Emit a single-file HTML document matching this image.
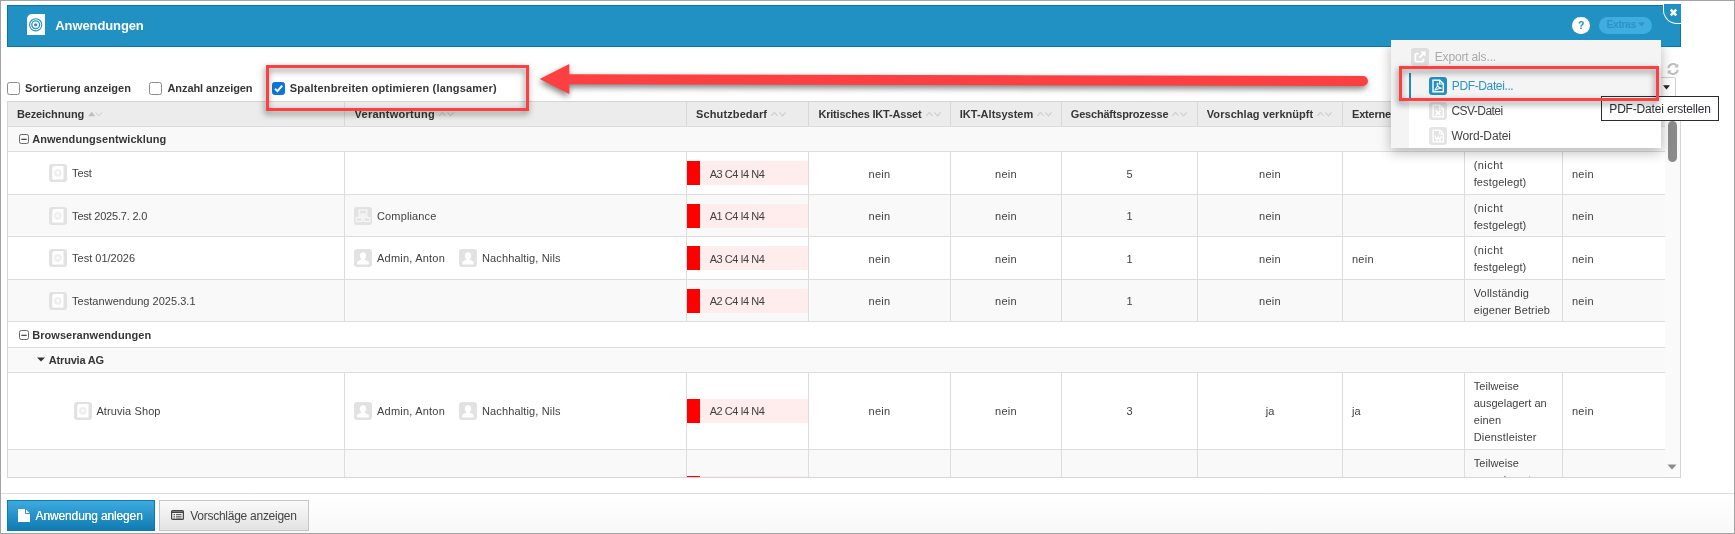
<!DOCTYPE html>
<html><head><meta charset="utf-8"><title>Anwendungen</title><style>
*{box-sizing:border-box}
html,body{margin:0;padding:0}
body{width:1735px;height:534px;overflow:hidden;background:#fff;position:relative;font-family:"Liberation Sans",sans-serif;color:#333}
.a{position:absolute}
.t{position:absolute;white-space:nowrap;color:#414141}
.frame{left:0;top:0;width:1735px;height:534px;border:1px solid #a3a3a3;z-index:50}
.hdr{left:7px;top:5px;width:1674px;height:42px;background:#2190c2;border:1px solid #0b75aa}
.cb{width:13px;height:13px;border:1px solid #8c8c8c;border-radius:2.5px;background:#fff}
.cb.on{background:#0f74d8;border-color:#0f74d8}
.row{left:8px;width:1657px}
.alt{background:#f9f9f9}
.hl{left:8px;width:1657px;height:1px;background:#dddddd}
.vl{width:1px;background:#dddddd}
.ico{width:18px;height:18px;border-radius:3px;background:#e2e2e2}
.red{left:687px;width:13px;height:24px;background:#ff0000}
.pink{left:700px;width:108px;height:24px;background:#ffecec}
.redbox{border:3px solid #fc4042;filter:drop-shadow(-1px 3.5px 3px rgba(0,0,0,.5))}
</style></head><body><div class="a" style="left:0;top:0;width:1735px;height:534px;will-change:transform">
<div class="a hdr"></div>
<svg class="a" style="left:26.500px;top:14.200px" width="18" height="21" viewBox="0 0 18 21"><path d="M5 0H18V21H0V5A5 5 0 0 1 5 0Z" fill="#fff"/><circle cx="8.700" cy="10.800" r="6.100" fill="none" stroke="#2190c2" stroke-width="1.100"/><circle cx="8.700" cy="10.800" r="3.900" fill="none" stroke="#2190c2" stroke-width="1.300"/><circle cx="8.700" cy="10.800" r="1.600" fill="#2190c2"/></svg>
<span class="t " style="font-size:13px;font-weight:bold;color:#fff;line-height:17px;top:17.00px;left:55.30px;letter-spacing:-0.104px;">Anwendungen</span>
<div class="a" style="left:1572px;top:17px;width:18px;height:17px;border-radius:9px;background:#fff"></div>
<span class="t " style="font-size:10.5px;font-weight:bold;color:#2190c2;line-height:14px;top:17.56px;left:1481.30px;width:200px;text-align:center;letter-spacing:0;">?</span>
<div class="a" style="left:1599px;top:17px;width:53px;height:17px;border-radius:8.5px;background:#40ade0"></div>
<span class="t " style="font-size:10.5px;font-weight:bold;color:#2c93c7;line-height:14px;top:17.36px;left:1606.50px;letter-spacing:-0.452px;">Extras</span>
<svg class="a" style="left:1638px;top:21.5px" width="7" height="5" viewBox="0 0 7 5"><path d="M0 0.5H7L3.5 4.5Z" fill="#2c93c7"/></svg>
<div class="a" style="left:1663px;top:4px;width:18px;height:20px;background:#2190c2;border-left:1px solid #fff;border-bottom:1px solid #fff;border-bottom-left-radius:14px"></div>
<svg class="a" style="left:1669px;top:8px" width="9" height="9" viewBox="0 0 9 9"><path d="M1.700 1.700L7.300 7.300M7.300 1.700L1.700 7.300" stroke="#fff" stroke-width="2.600"/></svg>
<div class="a cb" style="left:7px;top:82px"></div>
<span class="t " style="font-size:11px;font-weight:bold;color:#363636;line-height:14px;top:81.19px;left:24.90px;letter-spacing:0.018px;">Sortierung anzeigen</span>
<div class="a cb" style="left:149px;top:82px"></div>
<span class="t " style="font-size:11px;font-weight:bold;color:#363636;line-height:14px;top:81.19px;left:167.50px;letter-spacing:-0.079px;">Anzahl anzeigen</span>
<div class="a cb on" style="left:271.5px;top:82px"><svg class="a" style="left:0;top:0" width="11" height="11" viewBox="0 0 11 11"><path d="M2 5.8L4.5 8.2L9.2 2.6" fill="none" stroke="#fff" stroke-width="1.9"/></svg></div>
<span class="t " style="font-size:11px;font-weight:bold;color:#363636;line-height:14px;top:81.19px;left:289.80px;letter-spacing:0.157px;">Spaltenbreiten optimieren (langsamer)</span>
<div class="a" style="left:7px;top:101px;width:1674px;height:377px;border:1px solid #d6d6d6;background:#fff"></div>
<div class="a row" style="top:102px;height:24px;background:#ececec"></div>
<div class="a row alt" style="top:127px;height:24px"></div>
<div class="a row alt" style="top:195px;height:41px"></div>
<div class="a row alt" style="top:280px;height:41px"></div>
<div class="a row alt" style="top:348px;height:24px"></div>
<div class="a row alt" style="top:450px;height:27px"></div>
<div class="a hl" style="top:126px"></div>
<div class="a hl" style="top:151px"></div>
<div class="a hl" style="top:194px"></div>
<div class="a hl" style="top:236px"></div>
<div class="a hl" style="top:279px"></div>
<div class="a hl" style="top:321px"></div>
<div class="a hl" style="top:347px"></div>
<div class="a hl" style="top:372px"></div>
<div class="a hl" style="top:449px"></div>
<div class="a vl" style="left:344px;top:102px;height:24px;background:#d8d8d8"></div>
<div class="a vl" style="left:344px;top:152px;height:169px;background:#dddddd"></div>
<div class="a vl" style="left:344px;top:373px;height:104px;background:#dddddd"></div>
<div class="a vl" style="left:686px;top:102px;height:24px;background:#d8d8d8"></div>
<div class="a vl" style="left:686px;top:152px;height:169px;background:#dddddd"></div>
<div class="a vl" style="left:686px;top:373px;height:104px;background:#dddddd"></div>
<div class="a vl" style="left:808px;top:102px;height:24px;background:#d8d8d8"></div>
<div class="a vl" style="left:808px;top:152px;height:169px;background:#dddddd"></div>
<div class="a vl" style="left:808px;top:373px;height:104px;background:#dddddd"></div>
<div class="a vl" style="left:950px;top:102px;height:24px;background:#d8d8d8"></div>
<div class="a vl" style="left:950px;top:152px;height:169px;background:#dddddd"></div>
<div class="a vl" style="left:950px;top:373px;height:104px;background:#dddddd"></div>
<div class="a vl" style="left:1061px;top:102px;height:24px;background:#d8d8d8"></div>
<div class="a vl" style="left:1061px;top:152px;height:169px;background:#dddddd"></div>
<div class="a vl" style="left:1061px;top:373px;height:104px;background:#dddddd"></div>
<div class="a vl" style="left:1197px;top:102px;height:24px;background:#d8d8d8"></div>
<div class="a vl" style="left:1197px;top:152px;height:169px;background:#dddddd"></div>
<div class="a vl" style="left:1197px;top:373px;height:104px;background:#dddddd"></div>
<div class="a vl" style="left:1342px;top:102px;height:24px;background:#d8d8d8"></div>
<div class="a vl" style="left:1342px;top:152px;height:169px;background:#dddddd"></div>
<div class="a vl" style="left:1342px;top:373px;height:104px;background:#dddddd"></div>
<div class="a vl" style="left:1464px;top:102px;height:24px;background:#d8d8d8"></div>
<div class="a vl" style="left:1464px;top:152px;height:169px;background:#dddddd"></div>
<div class="a vl" style="left:1464px;top:373px;height:104px;background:#dddddd"></div>
<div class="a vl" style="left:1562px;top:102px;height:24px;background:#d8d8d8"></div>
<div class="a vl" style="left:1562px;top:152px;height:169px;background:#dddddd"></div>
<div class="a vl" style="left:1562px;top:373px;height:104px;background:#dddddd"></div>
<span class="t " style="font-size:11px;font-weight:bold;color:#363636;line-height:14px;top:107.19px;left:16.90px;letter-spacing:-0.114px;">Bezeichnung</span>
<svg class="a" style="left:87.6px;top:110px" width="16" height="8" viewBox="0 0 16 8"><path d="M0.2 6.200L3.700 1.800L7.200 6.200Z" fill="#bdbdbd"/><path d="M7.600 2.300L10.800 5.900L14 2.300" fill="none" stroke="#cdcdcd" stroke-width="1"/></svg>
<span class="t " style="font-size:11px;font-weight:bold;color:#363636;line-height:14px;top:107.19px;left:354.50px;letter-spacing:0.268px;">Verantwortung</span>
<svg class="a" style="left:439.0px;top:110px" width="16" height="8" viewBox="0 0 16 8"><path d="M0.400 6L3.500 2.400L6.600 6" fill="none" stroke="#cdcdcd" stroke-width="1.100"/><path d="M8.400 2.300L11.500 5.900L14.600 2.300" fill="none" stroke="#cdcdcd" stroke-width="1.100"/></svg>
<span class="t " style="font-size:11px;font-weight:bold;color:#363636;line-height:14px;top:107.19px;left:696.10px;letter-spacing:0.109px;">Schutzbedarf</span>
<svg class="a" style="left:771.1px;top:110px" width="16" height="8" viewBox="0 0 16 8"><path d="M0.400 6L3.500 2.400L6.600 6" fill="none" stroke="#cdcdcd" stroke-width="1.100"/><path d="M8.400 2.300L11.500 5.900L14.600 2.300" fill="none" stroke="#cdcdcd" stroke-width="1.100"/></svg>
<span class="t " style="font-size:11px;font-weight:bold;color:#363636;line-height:14px;top:107.19px;left:818.40px;letter-spacing:-0.194px;">Kritisches IKT-Asset</span>
<svg class="a" style="left:925.5px;top:110px" width="16" height="8" viewBox="0 0 16 8"><path d="M0.400 6L3.500 2.400L6.600 6" fill="none" stroke="#cdcdcd" stroke-width="1.100"/><path d="M8.400 2.300L11.500 5.900L14.600 2.300" fill="none" stroke="#cdcdcd" stroke-width="1.100"/></svg>
<span class="t " style="font-size:11px;font-weight:bold;color:#363636;line-height:14px;top:107.19px;left:959.80px;letter-spacing:0.011px;">IKT-Altsystem</span>
<svg class="a" style="left:1037.3px;top:110px" width="16" height="8" viewBox="0 0 16 8"><path d="M0.400 6L3.500 2.400L6.600 6" fill="none" stroke="#cdcdcd" stroke-width="1.100"/><path d="M8.400 2.300L11.500 5.900L14.600 2.300" fill="none" stroke="#cdcdcd" stroke-width="1.100"/></svg>
<span class="t " style="font-size:11px;font-weight:bold;color:#363636;line-height:14px;top:107.19px;left:1070.80px;letter-spacing:-0.199px;">Geschäftsprozesse</span>
<svg class="a" style="left:1172.3px;top:110px" width="16" height="8" viewBox="0 0 16 8"><path d="M0.400 6L3.500 2.400L6.600 6" fill="none" stroke="#cdcdcd" stroke-width="1.100"/><path d="M8.400 2.300L11.500 5.900L14.600 2.300" fill="none" stroke="#cdcdcd" stroke-width="1.100"/></svg>
<span class="t " style="font-size:11px;font-weight:bold;color:#363636;line-height:14px;top:107.19px;left:1206.80px;letter-spacing:0.050px;">Vorschlag verknüpft</span>
<svg class="a" style="left:1317.3px;top:110px" width="16" height="8" viewBox="0 0 16 8"><path d="M0.400 6L3.500 2.400L6.600 6" fill="none" stroke="#cdcdcd" stroke-width="1.100"/><path d="M8.400 2.300L11.500 5.900L14.600 2.300" fill="none" stroke="#cdcdcd" stroke-width="1.100"/></svg>
<span class="t " style="font-size:11px;font-weight:bold;color:#363636;line-height:14px;top:107.19px;left:1352.00px;letter-spacing:-0.211px;">Externe Dienstleister</span>
<svg class="a" style="left:1461px;top:110px" width="16" height="8" viewBox="0 0 16 8"><path d="M0.400 6L3.500 2.400L6.600 6" fill="none" stroke="#cdcdcd" stroke-width="1.100"/><path d="M8.400 2.300L11.500 5.900L14.600 2.300" fill="none" stroke="#cdcdcd" stroke-width="1.100"/></svg>
<svg class="a" style="left:19px;top:134px" width="10" height="10" viewBox="0 0 10 10"><rect x="0.5" y="0.5" width="9" height="9" rx="1.800" fill="none" stroke="#5a5a5a" stroke-width=".9"/><path d="M2.300 5.300H7.700" stroke="#333" stroke-width="1.100"/></svg>
<span class="t " style="font-size:11px;font-weight:bold;color:#363636;line-height:14px;top:132.19px;left:32.20px;letter-spacing:0.070px;">Anwendungsentwicklung</span>
<svg class="a" style="left:19px;top:329.5px" width="10" height="10" viewBox="0 0 10 10"><rect x="0.5" y="0.5" width="9" height="9" rx="1.800" fill="none" stroke="#5a5a5a" stroke-width=".9"/><path d="M2.300 5.300H7.700" stroke="#333" stroke-width="1.100"/></svg>
<span class="t " style="font-size:11px;font-weight:bold;color:#363636;line-height:14px;top:327.69px;left:32.20px;letter-spacing:0.057px;">Browseranwendungen</span>
<svg class="a" style="left:37px;top:357px" width="8" height="5" viewBox="0 0 8 5"><path d="M0 0.5H8L4 4.5Z" fill="#333"/></svg>
<span class="t " style="font-size:11px;font-weight:bold;color:#363636;line-height:14px;top:352.69px;left:48.80px;letter-spacing:-0.185px;">Atruvia AG</span>
<svg class="a ico" style="left:49px;top:164px" width="18" height="18" viewBox="0 0 18 18"><path d="M6 2.100H14.500V15.500H3.300V4.800A2.700 2.700 0 0 1 6 2.100Z" fill="#fff"/><circle cx="8.800" cy="8.800" r="3.900" fill="#efefef"/><circle cx="8.800" cy="8.800" r="1.300" fill="#fff"/></svg>
<span class="t " style="font-size:11px;line-height:14px;top:166.19px;left:72.10px;letter-spacing:-0.122px;">Test</span>
<div class="a red" style="top:161px"></div><div class="a pink" style="top:161px"></div>
<span class="t " style="font-size:11px;line-height:14px;top:166.69px;left:709.70px;letter-spacing:-0.484px;">A3 C4 I4 N4</span>
<span class="t " style="font-size:11px;line-height:14px;top:166.69px;left:779.50px;width:200px;text-align:center;letter-spacing:0.251px;">nein</span>
<span class="t " style="font-size:11px;line-height:14px;top:166.69px;left:906.00px;width:200px;text-align:center;letter-spacing:0.251px;">nein</span>
<span class="t " style="font-size:11px;line-height:14px;top:166.69px;left:1029.50px;width:200px;text-align:center;letter-spacing:0;">5</span>
<span class="t " style="font-size:11px;line-height:14px;top:166.69px;left:1170.00px;width:200px;text-align:center;letter-spacing:0.251px;">nein</span>
<span class="t " style="font-size:11px;line-height:14px;top:158.19px;left:1473.70px;letter-spacing:0.432px;">(nicht</span>
<span class="t " style="font-size:11px;line-height:14px;top:175.19px;left:1473.70px;letter-spacing:0.120px;">festgelegt)</span>
<span class="t " style="font-size:11px;line-height:14px;top:166.69px;left:1572.00px;letter-spacing:0.251px;">nein</span>
<svg class="a ico" style="left:49px;top:206.5px" width="18" height="18" viewBox="0 0 18 18"><path d="M6 2.100H14.500V15.500H3.300V4.800A2.700 2.700 0 0 1 6 2.100Z" fill="#fff"/><circle cx="8.800" cy="8.800" r="3.900" fill="#efefef"/><circle cx="8.800" cy="8.800" r="1.300" fill="#fff"/></svg>
<span class="t " style="font-size:11px;line-height:14px;top:208.69px;left:72.10px;letter-spacing:-0.205px;">Test 2025.7. 2.0</span>
<svg class="a ico" style="left:354px;top:206.5px" width="18" height="18" viewBox="0 0 18 18"><g fill="none" stroke="#f7f7f7" stroke-width="1.3"><rect x="5.2" y="3" width="7.6" height="4"/><rect x="2.3" y="10.700" width="5.600" height="3.800"/><rect x="10.100" y="10.700" width="5.600" height="3.800"/><path d="M9 7V12.500M5 10.700V9H13V10.700"/></g></svg>
<span class="t " style="font-size:11px;line-height:14px;top:208.69px;left:377.00px;letter-spacing:0.141px;">Compliance</span>
<div class="a red" style="top:203.5px"></div><div class="a pink" style="top:203.5px"></div>
<span class="t " style="font-size:11px;line-height:14px;top:209.19px;left:709.70px;letter-spacing:-0.484px;">A1 C4 I4 N4</span>
<span class="t " style="font-size:11px;line-height:14px;top:209.19px;left:779.50px;width:200px;text-align:center;letter-spacing:0.251px;">nein</span>
<span class="t " style="font-size:11px;line-height:14px;top:209.19px;left:906.00px;width:200px;text-align:center;letter-spacing:0.251px;">nein</span>
<span class="t " style="font-size:11px;line-height:14px;top:209.19px;left:1029.50px;width:200px;text-align:center;letter-spacing:0;">1</span>
<span class="t " style="font-size:11px;line-height:14px;top:209.19px;left:1170.00px;width:200px;text-align:center;letter-spacing:0.251px;">nein</span>
<span class="t " style="font-size:11px;line-height:14px;top:200.69px;left:1473.70px;letter-spacing:0.432px;">(nicht</span>
<span class="t " style="font-size:11px;line-height:14px;top:217.69px;left:1473.70px;letter-spacing:0.120px;">festgelegt)</span>
<span class="t " style="font-size:11px;line-height:14px;top:209.19px;left:1572.00px;letter-spacing:0.251px;">nein</span>
<svg class="a ico" style="left:49px;top:249px" width="18" height="18" viewBox="0 0 18 18"><path d="M6 2.100H14.500V15.500H3.300V4.800A2.700 2.700 0 0 1 6 2.100Z" fill="#fff"/><circle cx="8.800" cy="8.800" r="3.900" fill="#efefef"/><circle cx="8.800" cy="8.800" r="1.300" fill="#fff"/></svg>
<span class="t " style="font-size:11px;line-height:14px;top:251.19px;left:72.10px;letter-spacing:0.000px;">Test 01/2026</span>
<svg class="a ico" style="left:354px;top:249px" width="18" height="18" viewBox="0 0 18 18"><path d="M9 3.2c2 0 3.2 1.5 3.2 3.4 0 1.4-.6 2.7-1.5 3.3v.9c1.8.6 4.1 1.500 4.3 3.200 0 1-1 1.5-1.500 1.500H4.500C4 15.500 3 15 3 14c.2-1.700 2.500-2.600 4.300-3.200v-.9C6.400 9.300 5.800 8 5.800 6.600 5.800 4.700 7 3.200 9 3.200Z" fill="#fff"/></svg>
<span class="t " style="font-size:11px;line-height:14px;top:251.19px;left:377.00px;letter-spacing:0.214px;">Admin, Anton</span>
<svg class="a ico" style="left:459px;top:249px" width="18" height="18" viewBox="0 0 18 18"><path d="M9 3.2c2 0 3.2 1.5 3.2 3.4 0 1.4-.6 2.7-1.5 3.3v.9c1.8.6 4.1 1.500 4.3 3.200 0 1-1 1.5-1.500 1.500H4.500C4 15.500 3 15 3 14c.2-1.700 2.500-2.600 4.300-3.200v-.9C6.400 9.300 5.800 8 5.800 6.600 5.800 4.700 7 3.200 9 3.200Z" fill="#fff"/></svg>
<span class="t " style="font-size:11px;line-height:14px;top:251.19px;left:482.00px;letter-spacing:0.136px;">Nachhaltig, Nils</span>
<div class="a red" style="top:246px"></div><div class="a pink" style="top:246px"></div>
<span class="t " style="font-size:11px;line-height:14px;top:251.69px;left:709.70px;letter-spacing:-0.484px;">A3 C4 I4 N4</span>
<span class="t " style="font-size:11px;line-height:14px;top:251.69px;left:779.50px;width:200px;text-align:center;letter-spacing:0.251px;">nein</span>
<span class="t " style="font-size:11px;line-height:14px;top:251.69px;left:906.00px;width:200px;text-align:center;letter-spacing:0.251px;">nein</span>
<span class="t " style="font-size:11px;line-height:14px;top:251.69px;left:1029.50px;width:200px;text-align:center;letter-spacing:0;">1</span>
<span class="t " style="font-size:11px;line-height:14px;top:251.69px;left:1170.00px;width:200px;text-align:center;letter-spacing:0.251px;">nein</span>
<span class="t " style="font-size:11px;line-height:14px;top:251.69px;left:1352.00px;letter-spacing:0.251px;">nein</span>
<span class="t " style="font-size:11px;line-height:14px;top:243.19px;left:1473.70px;letter-spacing:0.432px;">(nicht</span>
<span class="t " style="font-size:11px;line-height:14px;top:260.19px;left:1473.70px;letter-spacing:0.120px;">festgelegt)</span>
<span class="t " style="font-size:11px;line-height:14px;top:251.69px;left:1572.00px;letter-spacing:0.251px;">nein</span>
<svg class="a ico" style="left:49px;top:291.5px" width="18" height="18" viewBox="0 0 18 18"><path d="M6 2.100H14.500V15.500H3.300V4.800A2.700 2.700 0 0 1 6 2.100Z" fill="#fff"/><circle cx="8.800" cy="8.800" r="3.900" fill="#efefef"/><circle cx="8.800" cy="8.800" r="1.300" fill="#fff"/></svg>
<span class="t " style="font-size:11px;line-height:14px;top:293.69px;left:72.10px;letter-spacing:0.026px;">Testanwendung 2025.3.1</span>
<div class="a red" style="top:288.5px"></div><div class="a pink" style="top:288.5px"></div>
<span class="t " style="font-size:11px;line-height:14px;top:294.19px;left:709.70px;letter-spacing:-0.484px;">A2 C4 I4 N4</span>
<span class="t " style="font-size:11px;line-height:14px;top:294.19px;left:779.50px;width:200px;text-align:center;letter-spacing:0.251px;">nein</span>
<span class="t " style="font-size:11px;line-height:14px;top:294.19px;left:906.00px;width:200px;text-align:center;letter-spacing:0.251px;">nein</span>
<span class="t " style="font-size:11px;line-height:14px;top:294.19px;left:1029.50px;width:200px;text-align:center;letter-spacing:0;">1</span>
<span class="t " style="font-size:11px;line-height:14px;top:294.19px;left:1170.00px;width:200px;text-align:center;letter-spacing:0.251px;">nein</span>
<span class="t " style="font-size:11px;line-height:14px;top:285.69px;left:1473.70px;letter-spacing:0.207px;">Vollständig</span>
<span class="t " style="font-size:11px;line-height:14px;top:302.69px;left:1473.70px;letter-spacing:0.106px;">eigener Betrieb</span>
<span class="t " style="font-size:11px;line-height:14px;top:294.19px;left:1572.00px;letter-spacing:0.251px;">nein</span>
<svg class="a ico" style="left:74px;top:402px" width="18" height="18" viewBox="0 0 18 18"><path d="M6 2.100H14.500V15.500H3.300V4.800A2.700 2.700 0 0 1 6 2.100Z" fill="#fff"/><circle cx="8.800" cy="8.800" r="3.900" fill="#efefef"/><circle cx="8.800" cy="8.800" r="1.300" fill="#fff"/></svg>
<span class="t " style="font-size:11px;line-height:14px;top:404.19px;left:96.40px;letter-spacing:0.101px;">Atruvia Shop</span>
<svg class="a ico" style="left:354px;top:402px" width="18" height="18" viewBox="0 0 18 18"><path d="M9 3.2c2 0 3.2 1.5 3.2 3.4 0 1.4-.6 2.7-1.5 3.3v.9c1.8.6 4.1 1.500 4.3 3.200 0 1-1 1.5-1.500 1.500H4.500C4 15.500 3 15 3 14c.2-1.700 2.500-2.600 4.300-3.200v-.9C6.400 9.300 5.800 8 5.800 6.600 5.800 4.700 7 3.200 9 3.200Z" fill="#fff"/></svg>
<span class="t " style="font-size:11px;line-height:14px;top:404.19px;left:377.00px;letter-spacing:0.214px;">Admin, Anton</span>
<svg class="a ico" style="left:459px;top:402px" width="18" height="18" viewBox="0 0 18 18"><path d="M9 3.2c2 0 3.2 1.5 3.2 3.4 0 1.4-.6 2.7-1.5 3.3v.9c1.8.6 4.1 1.500 4.3 3.200 0 1-1 1.5-1.500 1.500H4.500C4 15.500 3 15 3 14c.2-1.700 2.500-2.600 4.300-3.200v-.9C6.400 9.300 5.800 8 5.800 6.600 5.800 4.700 7 3.200 9 3.200Z" fill="#fff"/></svg>
<span class="t " style="font-size:11px;line-height:14px;top:404.19px;left:482.00px;letter-spacing:0.136px;">Nachhaltig, Nils</span>
<div class="a red" style="top:399px"></div><div class="a pink" style="top:399px"></div>
<span class="t " style="font-size:11px;line-height:14px;top:403.89px;left:709.70px;letter-spacing:-0.484px;">A2 C4 I4 N4</span>
<span class="t " style="font-size:11px;line-height:14px;top:403.89px;left:779.50px;width:200px;text-align:center;letter-spacing:0.251px;">nein</span>
<span class="t " style="font-size:11px;line-height:14px;top:403.89px;left:906.00px;width:200px;text-align:center;letter-spacing:0.251px;">nein</span>
<span class="t " style="font-size:11px;line-height:14px;top:403.89px;left:1029.50px;width:200px;text-align:center;letter-spacing:0;">3</span>
<span class="t " style="font-size:11px;line-height:14px;top:403.89px;left:1170.00px;width:200px;text-align:center;letter-spacing:0;">ja</span>
<span class="t " style="font-size:11px;line-height:14px;top:403.89px;left:1352.00px;letter-spacing:0;">ja</span>
<span class="t " style="font-size:11px;line-height:14px;top:379.19px;left:1473.70px;letter-spacing:0.073px;">Teilweise</span>
<span class="t " style="font-size:11px;line-height:14px;top:396.19px;left:1473.70px;letter-spacing:0.016px;">ausgelagert an</span>
<span class="t " style="font-size:11px;line-height:14px;top:413.19px;left:1473.70px;letter-spacing:0.116px;">einen</span>
<span class="t " style="font-size:11px;line-height:14px;top:430.19px;left:1473.70px;letter-spacing:0.190px;">Dienstleister</span>
<span class="t " style="font-size:11px;line-height:14px;top:403.89px;left:1572.00px;letter-spacing:0.251px;">nein</span>
<div class="a" style="left:687px;top:476px;width:13px;height:1px;background:#ff0000"></div><div class="a" style="left:700px;top:476px;width:108px;height:1px;background:#ffecec"></div>
<div class="a" style="left:1465px;top:450px;width:97px;height:27px;overflow:hidden"><span class="t " style="font-size:11px;line-height:14px;top:6.19px;left:8.70px;letter-spacing:0.073px;">Teilweise</span><span class="t " style="font-size:11px;line-height:14px;top:23.19px;left:8.70px;letter-spacing:0.016px;">ausgelagert an</span></div>
<div class="a" style="left:1665px;top:102px;width:15px;height:375px;background:#fafafa"></div>
<div class="a" style="left:1668px;top:120.5px;width:9px;height:41.5px;border-radius:4.5px;background:#8b8b8b"></div>
<svg class="a" style="left:1667px;top:464px" width="10" height="6" viewBox="0 0 10 6"><path d="M0.5 0.5H9.5L5 5.5Z" fill="#8b8b8b"/></svg>
<svg class="a" style="left:1667px;top:63px" width="12" height="12" viewBox="0 0 12 12"><g fill="none" stroke="#bebebe" stroke-width="2"><path d="M1.3 5.2A4.8 4.8 0 0 1 9.600 2.600"/><path d="M10.700 6.800A4.800 4.800 0 0 1 2.400 9.400"/></g><path d="M11.300 0.500V4.500H7.300Z" fill="#bebebe"/><path d="M0.700 11.500V7.500H4.700Z" fill="#bebebe"/></svg>
<div class="a" style="left:1655px;top:77px;width:21px;height:20px;border:1px solid #d0d0d0;background:#fff;border-radius:0 2px 2px 0"></div>
<svg class="a" style="left:1663.200px;top:84.800px" width="7" height="5" viewBox="0 0 7 5"><path d="M0 0.300H7L3.500 4.500Z" fill="#222"/></svg>
<div class="a" style="left:1360px;top:47px;width:340px;height:140px;overflow:hidden"><div class="a" style="left:31px;top:-7px;width:270px;height:108px;box-shadow:0 4px 12px rgba(0,0,0,.28)"></div></div>
<div class="a" style="left:1391px;top:40px;width:270px;height:108px;background:#f4f4f4"></div>
<div class="a" style="left:1409px;top:101px;width:252px;height:47px;background:#fff"></div>
<div class="a" style="left:1409px;top:73px;width:2px;height:26px;background:#2389c0"></div>
<svg class="a ico" style="left:1411px;top:48px;background:#dedede" width="18" height="18" viewBox="0 0 18 18"><path d="M12.400 10.400V12.600A1 1 0 0 1 11.400 13.600H5.400A1 1 0 0 1 4.400 12.600V6.600A1 1 0 0 1 5.400 5.600H7.800" fill="none" stroke="#fff" stroke-width="1.900"/><path d="M8.200 9.800L12.800 5.200" stroke="#fff" stroke-width="2.100"/><path d="M9.300 3.500H14.500V8.700Z" fill="#fff"/></svg>
<span class="t " style="font-size:12px;color:#a9a9a9;line-height:16px;top:48.54px;left:1434.70px;letter-spacing:-0.158px;">Export als...</span>
<svg class="a ico" style="left:1429px;top:77px;background:#2190c2" width="18" height="18" viewBox="0 0 18 18"><path d="M4 3.300H10.800L14.300 6.800V14.700H4Z" fill="none" stroke="#fff" stroke-width="1.400"/><path d="M10.600 3.500V7H14.100" fill="none" stroke="#fff" stroke-width="1.100"/><path d="M5.600 13.300C7.400 11.600 8.700 9 8.900 6.800C9 5.800 8 5.800 8.100 6.800C8.500 9.200 10.400 11 12.800 11.300C10.400 11.300 7.900 12.200 5.600 13.300Z" fill="none" stroke="#fff" stroke-width="1.100"/></svg>
<span class="t " style="font-size:12px;color:#2a93c8;line-height:16px;top:77.74px;left:1451.80px;letter-spacing:-0.376px;">PDF-Datei...</span>
<svg class="a ico" style="left:1429px;top:102px;background:#e4e4e4" width="18" height="18" viewBox="0 0 18 18"><path d="M4.100 3.300H10.800L14.300 6.800V14.700H4.100Z" fill="none" stroke="#fff" stroke-width="1.400"/><path d="M10.600 3.500V7H14.100" fill="none" stroke="#fff" stroke-width="1.100"/><path d="M6.700 8.600L11.500 13.200M11.500 8.600L6.700 13.200" stroke="#fff" stroke-width="1.700"/></svg>
<span class="t " style="font-size:12px;color:#444;line-height:16px;top:102.54px;left:1451.50px;letter-spacing:-0.548px;">CSV-Datei</span>
<svg class="a ico" style="left:1429px;top:127px;background:#e4e4e4" width="18" height="18" viewBox="0 0 18 18"><path d="M4.100 3.300H10.800L14.300 6.800V14.700H4.100Z" fill="none" stroke="#fff" stroke-width="1.400"/><path d="M10.600 3.500V7H14.100" fill="none" stroke="#fff" stroke-width="1.100"/><path d="M6 8.800L7.600 13.200L9.200 9.800L10.800 13.200L12.400 8.800" fill="none" stroke="#fff" stroke-width="1.300"/></svg>
<span class="t " style="font-size:12px;color:#444;line-height:16px;top:127.64px;left:1451.50px;letter-spacing:-0.117px;">Word-Datei</span>
<div class="a" style="left:1601px;top:96px;width:118px;height:25px;background:#fff;border:1px solid #2b2b2b"></div>
<span class="t " style="font-size:12px;color:#2e2e3a;line-height:16px;top:100.64px;left:1609.30px;letter-spacing:-0.174px;">PDF-Datei erstellen</span>
<div class="a redbox" style="left:266px;top:65px;width:263px;height:46px"></div>
<div class="a redbox" style="left:1399px;top:66px;width:260px;height:35px"></div>
<svg class="a" style="left:520px;top:50px;filter:drop-shadow(-1px 3.5px 3px rgba(0,0,0,.5))" width="870" height="60" viewBox="520 50 870 60"><path d="M569 79.300L1363 81" stroke="#fc4042" stroke-width="10" stroke-linecap="round" fill="none"/><path d="M539.700 79L569.300 64V94Z" fill="#fc4042"/></svg>
<div class="a" style="left:1px;top:493px;width:1733px;height:40px;border-top:1px solid #dedede;background:linear-gradient(#ffffff,#f8f8f8)"></div>
<div class="a" style="left:7px;top:500px;width:148px;height:31px;border:1px solid #1279ab;background:linear-gradient(#3daae0,#0f7bb0)"></div>
<svg class="a" style="left:18px;top:509px" width="12" height="13" viewBox="0 0 12 13"><path d="M0 0H7.500L12 4.500V13H0Z" fill="#fff"/><path d="M7.500 0V4.500H12" fill="none" stroke="#2b95c9" stroke-width="1"/></svg>
<span class="t " style="font-size:12px;color:#fff;line-height:16px;top:508.14px;left:35.60px;text-shadow:0 0 .6px #fff;letter-spacing:-0.138px;">Anwendung anlegen</span>
<div class="a" style="left:159px;top:500px;width:150px;height:31px;border:1px solid #c6c6c6;background:linear-gradient(#fafafa,#e3e3e3)"></div>
<svg class="a" style="left:171px;top:510px" width="13" height="10" viewBox="0 0 13 10"><rect x="0.600" y="0.600" width="11.800" height="8.800" rx="1" fill="none" stroke="#444" stroke-width="1.200"/><path d="M0.600 2.200H12.400" stroke="#444" stroke-width="1.600"/><path d="M2.500 4.500H4M5 4.500H10.500M2.500 6.300H4M5 6.300H10.500M2.500 8H4M5 8H10.500" stroke="#444" stroke-width=".8"/></svg>
<span class="t " style="font-size:12px;color:#444;line-height:16px;top:508.14px;left:190.20px;letter-spacing:-0.259px;">Vorschläge anzeigen</span>
<div class="a frame"></div>
</div></body></html>
